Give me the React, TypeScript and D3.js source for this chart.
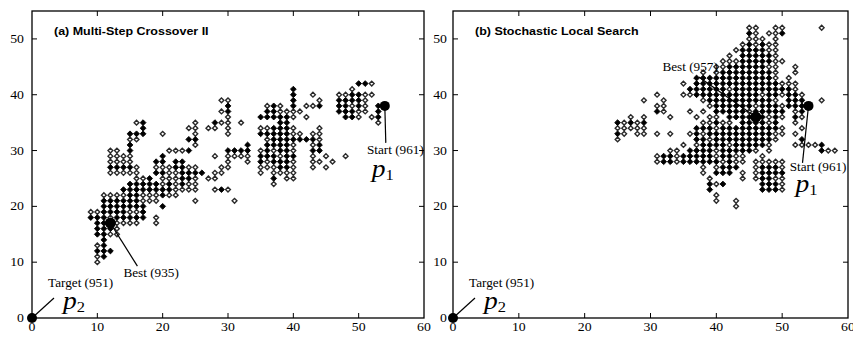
import React from 'react';
import * as d3 from 'd3';

const xTicks = [0, 10, 20, 30, 40, 50, 60];
const yTicks = [0, 10, 20, 30, 40, 50];
const titles = ['(a) Multi-Step Crossover II', '(b) Stochastic Local Search'];

// rows of the search grid: [y, "x:cells ..."], '#' dark point, 'o' light point
const crossoverRows: [number, string][] = [
  [42, '50:##o'],
  [41, '40:# 49:o'],
  [40, '40:# 43:o 47:oo##oo'],
  [39, '29:oo 40:# 44:o 47:####o'],
  [38, '30:# 36:o#o 40:# 42:oo# 47:##o#o 53:#'],
  [37, '29:o# 36:##oooo 47:###oo 53:#'],
  [36, '30:o 35:#####o 42:o 48:##o 52:o#'],
  [35, '16:o# 25:o 28:#oo 32:o 38:## 53:o'],
  [34, '17:# 24:oo 27:oo 30:o 35:oo###o 44:o'],
  [33, '15:### 20:o 25:o 30:o 35:#####oo 43:oo'],
  [32, '15:oo 24:## 36:o#######o'],
  [31, '15:# 25:o 33:# 36:####o 43:o#'],
  [30, '12:oo 15:# 21:ooo# 30:#### 35:o#o##o 43:##'],
  [29, '12:oooo 20:# 28:o 30:oooo 35:###o## 43:o 45:o 48:o'],
  [28, '12:oooo 19:## 22:## 30:o 33:o 35:#o###o 43:oo 46:o'],
  [27, '12:####o 19:ooo##oo 29:oo 35:ooo##o 43:o 45:o'],
  [26, '12:ooooo 19:##oo#### 28:oo 35:o 37:oooo'],
  [25, '16:oo# 20:ooo##o 27:oo 37:# 39:oo'],
  [24, '15:#####o#o#oo 37:o'],
  [23, '14:########oooo 28:o#o'],
  [22, '11:oooo##ooo#oo'],
  [21, '11:######ooo 25:o 31:o'],
  [20, '11:####### 20:#'],
  [19, '9:oo####oo#'],
  [18, '9:###o##### 19:o'],
  [17, '10:## 13:oooo 19:o'],
  [16, '10:###o'],
  [15, '10:##oo'],
  [14, '11:#'],
  [13, '10:o#'],
  [12, '10:###'],
  [11, '10:o#'],
  [10, '10:o'],
];

const localSearchRows: [number, string][] = [
  [52, '45:oo 49:oo 56:o'],
  [51, '45:#o 48:oo#'],
  [50, '45:ooo 49:o'],
  [49, '44:o#o#oo'],
  [48, '43:o####oo'],
  [47, '42:o 44:#####o'],
  [46, '41:ooo#####oo'],
  [45, '40:oo######oo 52:o'],
  [44, '38:o 40:o########o 52:o'],
  [43, '37:############o 51:o'],
  [42, '35:o 37:#############ooo'],
  [41, '36:######o#########o'],
  [40, '31:o 35:oo##########o##o##o'],
  [39, '29:o 32:o 38:o##########o 51:### 56:o'],
  [38, '31:oo 39:o######o###o###'],
  [37, '31:#o 36:o 38:o 40:#####o##### 52:o#'],
  [36, '27:o 29:o 33:o 37:o 39:oo 42:######o#o 52:#o'],
  [35, '25:#o#o# 38:oo#oo 44:####o# 52:o'],
  [34, '25:ooooo 37:###o#########o 53:o'],
  [33, '25:#o 28:oo 31:o 33:o 36:o#o##########oo 52:o'],
  [32, '25:o 37:##o#########o 53:#'],
  [31, '35:o 37:o####o#####o 52:oooo#'],
  [30, '33:oo 36:####o#####o 48:o 56:#oo'],
  [29, '31:o##o#####o##oo 47:o'],
  [28, '31:o##o######o#oo 46:ooooo'],
  [27, '38:o 40:o### 46:o###o'],
  [26, '38:o 40:### 44:o 46:o####'],
  [25, '39:o 44:o 46:o##oo'],
  [24, '39:#o# 47:###o'],
  [23, '39:# 47:###o'],
  [22, '40:o'],
  [21, '40:o 43:o'],
  [20, '43:o'],
];

const targetPoint = { x: 0, y: 0, label: 'Target (951)' };
const bestPoints = [
  { x: 12, y: 17, label: 'Best (935)' },
  { x: 46, y: 36, label: 'Best (957)' },
];
const startPoints = [
  { x: 54, y: 38, label: 'Start (961)' },
  { x: 54, y: 38, label: 'Start (961)' },
];

const serif = '"Liberation Serif", "Times New Roman", serif';
const sans = '"Liberation Sans", Arial, sans-serif';

type Pt = { x: number; y: number; filled: boolean };

function parseRows(rows: [number, string][]): Pt[] {
  const out: Pt[] = [];
  rows.forEach(([y, runs]) => {
    runs.split(' ').forEach((tok) => {
      const [sx, cells] = tok.split(':');
      cells.split('').forEach((c, i) => {
        if (c === '.') return;
        out.push({ x: +sx + i, y, filled: c === '#' });
      });
    });
  });
  return out;
}

const Txt = ({ x, y, size = 11.5, anchor = 'start', family = serif, weight = 'normal', sx = 1.15, children }: any) => (
  <text
    transform={`translate(${x},${y}) scale(${sx},1)`}
    fontSize={size}
    fontFamily={family}
    fontWeight={weight}
    textAnchor={anchor}
    fill="#000"
  >
    {children}
  </text>
);

const PLabel = ({ x, y, sub }: any) => (
  <text transform={`translate(${x},${y}) scale(1.1,1)`} fontFamily={serif} fill="#000">
    <tspan fontSize={25} fontStyle="italic">p</tspan>
    <tspan fontSize={15} dy={3}>{sub}</tspan>
  </text>
);

const diamond = (w: number) => `M0,${-w}L${w},0L0,${w}L${-w},0Z`;

const panels = [
  {
    x0: 32, x1: 424, rows: crossoverRows, title: titles[0], best: bestPoints[0], start: startPoints[0],
    bestLine: [27, 43], bestText: [13, 54, 'start'],
    startLine: [1, 37], startText: [39, 48], p1: [-13, 71], yLabelDx: -8,
  },
  {
    x0: 453, x1: 848, rows: localSearchRows, title: titles[1], best: bestPoints[1], start: startPoints[1],
    bestLine: [-57, -40], bestText: [-38, -46, 'end'],
    startLine: [-6, 57], startText: [38, 65], p1: [-13, 86], yLabelDx: -6,
  },
];

function Panel({ p }: any) {
  const x = d3.scaleLinear().domain([0, 60]).range([p.x0, p.x1]);
  const y = d3.scaleLinear().domain([0, 55]).range([318, 11]);
  const pts = parseRows(p.rows);
  const tk = 5;
  const tx = x(targetPoint.x), ty = y(targetPoint.y);
  const bx = x(p.best.x), by = y(p.best.y);
  const sx = x(p.start.x), sy = y(p.start.y);
  return (
    <g>
      {pts.filter((d) => !d.filled).map((d, i) => (
        <path key={'o' + i} d={diamond(2.4)} transform={`translate(${x(d.x)},${y(d.y)})`}
          fill="#fff" stroke="#2a2a2a" strokeWidth={1.4} />
      ))}
      {pts.filter((d) => d.filled).map((d, i) => (
        <path key={'f' + i} d={diamond(2.9)} transform={`translate(${x(d.x)},${y(d.y)})`}
          fill="#000" stroke="#000" strokeWidth={0.9} strokeLinejoin="round" />
      ))}
      <rect x={p.x0} y={y(55)} width={p.x1 - p.x0} height={y(0) - y(55)} fill="none" stroke="#000" strokeWidth={1.3} />
      {xTicks.slice(1, -1).map((t) => (
        <g key={'xt' + t}>
          <line x1={x(t)} x2={x(t)} y1={y(0)} y2={y(0) - tk} stroke="#000" />
          <line x1={x(t)} x2={x(t)} y1={y(55)} y2={y(55) + tk} stroke="#000" />
        </g>
      ))}
      {yTicks.slice(1).map((t) => (
        <g key={'yt' + t}>
          <line x1={p.x0} x2={p.x0 + tk} y1={y(t)} y2={y(t)} stroke="#000" />
          <line x1={p.x1} x2={p.x1 - tk} y1={y(t)} y2={y(t)} stroke="#000" />
        </g>
      ))}
      {xTicks.map((t) => (
        <Txt key={'xl' + t} x={x(t)} y={331} anchor="middle" size={12}>{t}</Txt>
      ))}
      {yTicks.map((t) => (
        <Txt key={'yl' + t} x={p.x0 + p.yLabelDx} y={y(t) + 4} anchor="end" size={12}>{t}</Txt>
      ))}
      <Txt x={p.x0 + 22} y={35} family={sans} weight="bold" size={10} sx={1.25}>{p.title}</Txt>

      <line x1={tx} y1={ty} x2={tx + 22} y2={ty - 20} stroke="#000" strokeWidth={1.2} />
      <circle cx={tx} cy={ty} r={5} fill="#000" />
      <Txt x={tx + 16} y={ty - 31}>{targetPoint.label}</Txt>
      <PLabel x={tx + 31} y={ty - 9} sub="2" />

      <line x1={bx} y1={by} x2={bx + p.bestLine[0]} y2={by + p.bestLine[1]} stroke="#000" strokeWidth={1.2} />
      <circle cx={bx} cy={by} r={5.5} fill="#000" />
      <Txt x={bx + p.bestText[0]} y={by + p.bestText[1]} anchor={p.bestText[2]}>{p.best.label}</Txt>

      <line x1={sx} y1={sy} x2={sx + p.startLine[0]} y2={sy + p.startLine[1]} stroke="#000" strokeWidth={1.2} />
      <circle cx={sx} cy={sy} r={5} fill="#000" />
      <Txt x={sx + p.startText[0]} y={sy + p.startText[1]} anchor="end">{p.start.label}</Txt>
      <PLabel x={sx + p.p1[0]} y={sy + p.p1[1]} sub="1" />
    </g>
  );
}

export default function App() {
  return (
    <svg width={853} height={338} style={{ position: 'absolute', left: 0, top: 0, background: '#fff' }}>
      {panels.map((p, i) => (
        <Panel key={i} p={p} />
      ))}
    </svg>
  );
}
